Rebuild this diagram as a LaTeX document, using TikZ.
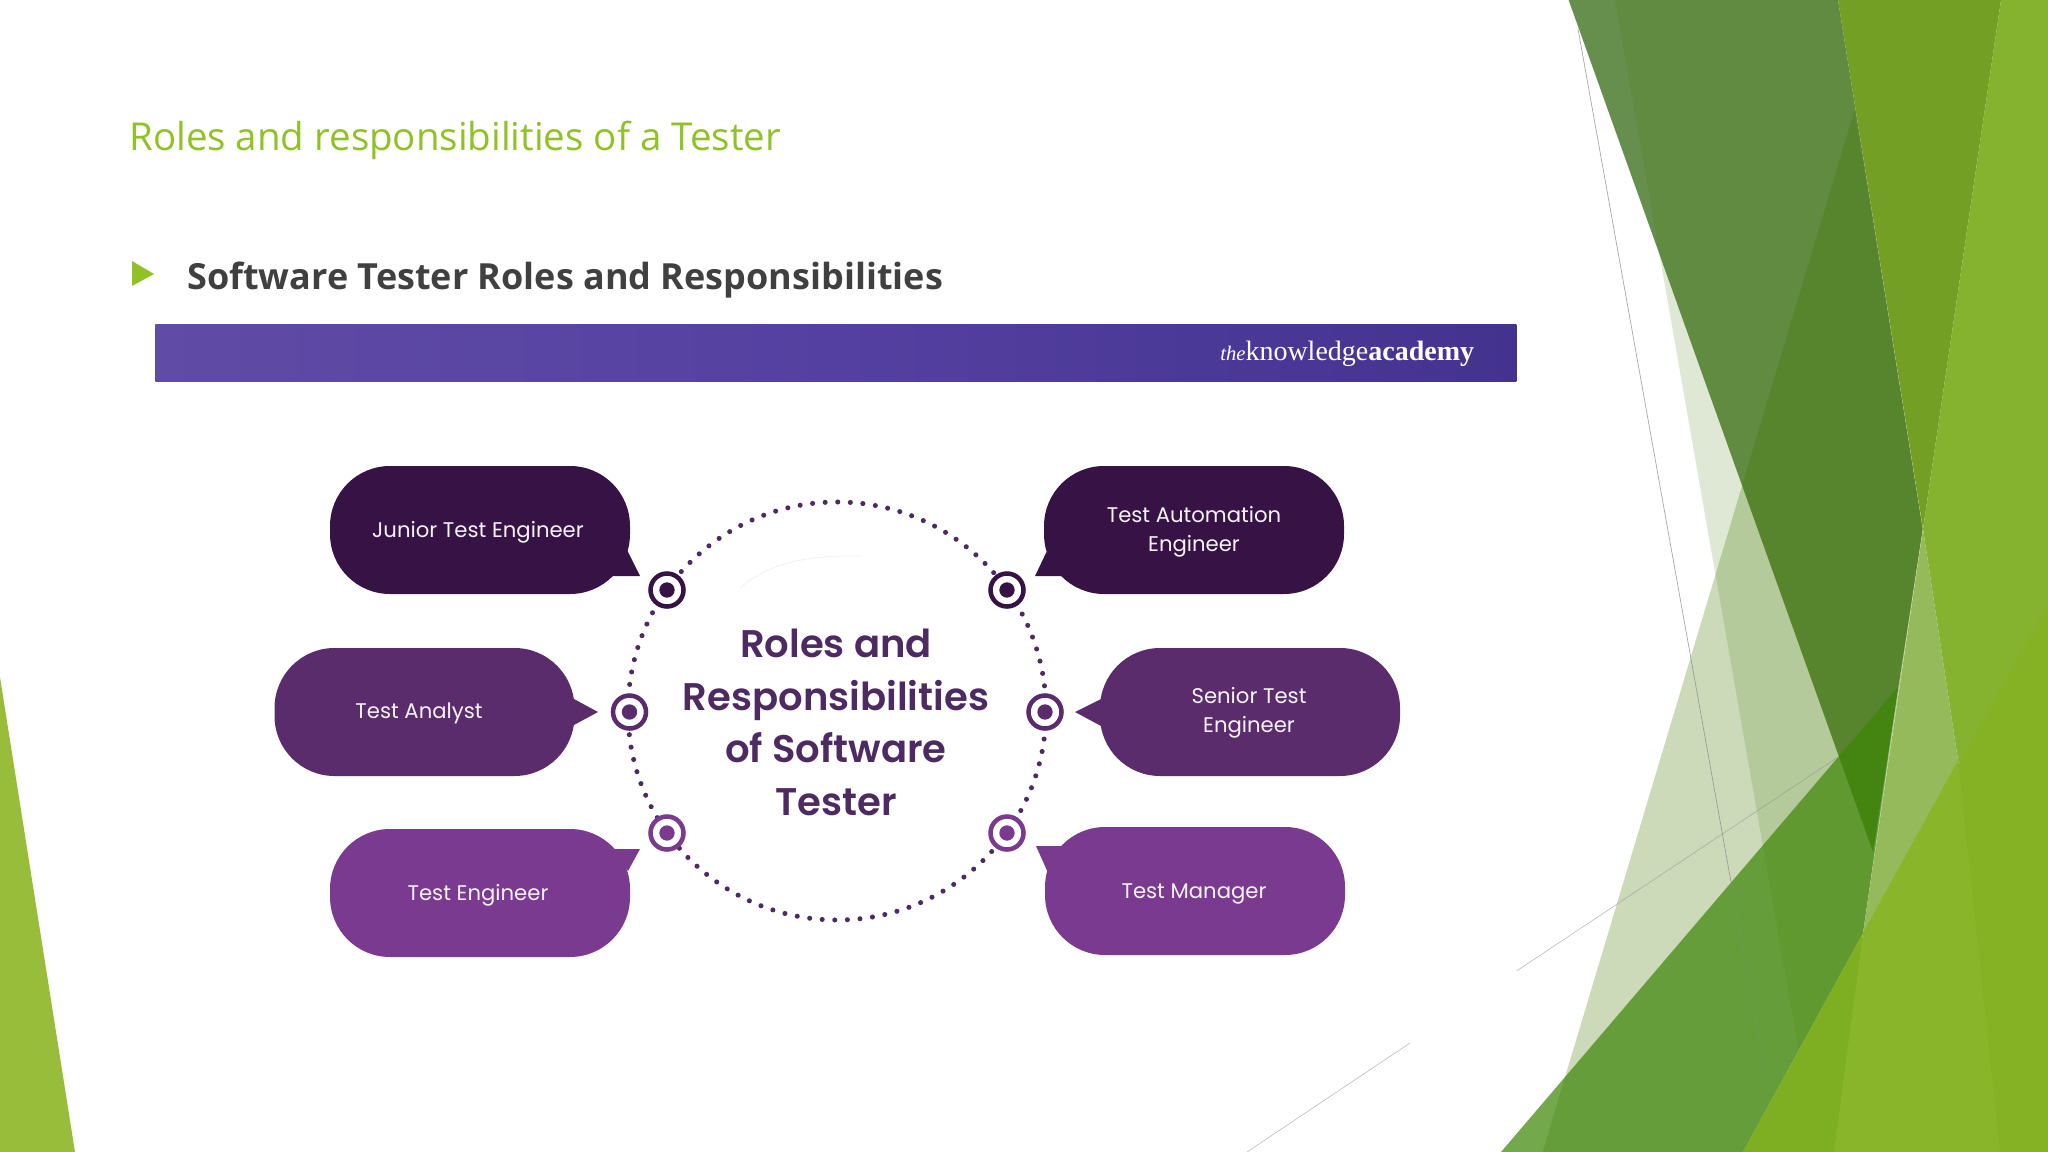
\documentclass[tikz,border=0pt]{standalone}
\usepackage{fontspec}
\setmainfont{Open Sans}
\newfontfamily\popfont{Poppins}
\newfontfamily\popsemi{Poppins SemiBold}
\newfontfamily\logofont{Liberation Serif}
\definecolor{slidegreen}{HTML}{90C226}
\definecolor{bullettext}{HTML}{404040}
\definecolor{darkplum}{HTML}{371245}
\definecolor{midplum}{HTML}{5B2C6B}
\definecolor{lightplum}{HTML}{7A3A90}
\definecolor{hubtext}{HTML}{4E2A62}
\definecolor{paleveil}{RGB}{67,120,0}
\definecolor{bandgreen}{RGB}{62,134,8}
\tikzset{
  bubble/.style={rectangle, rounded corners=45pt, minimum width=225pt, minimum height=96pt, inner sep=0pt},
  bubbletext/.style={align=center, inner sep=0pt, text=white!94!lightplum, font=\popfont\fontsize{15.9}{21.6}\selectfont},
  ring/.style={circle, draw, fill=white, line width=3.4pt, minimum size=24.75pt, inner sep=0pt},
  bullseye/.style={circle, minimum size=11.5pt, inner sep=0pt},
  hub/.style={circle, draw=hubtext, minimum size=313.5pt, inner sep=0pt, line width=3.8pt, line cap=round, dash pattern={on 0pt off 9.45pt}},
  thinline/.style={draw=black!45, line width=0.5pt}
}
\begin{document}
\begin{tikzpicture}[x=0.75pt,y=0.75pt,yscale=-1]
\useasboundingbox (0,0) rectangle (2048,1152);

%Shape: left corner
\fill [color={rgb,255:red,151;green,189;blue,59}] (0,677) -- (75,1152) -- (0,1152) -- cycle ;

%Shape: dark facet
\fill [color={rgb,255:red,102;green,143;blue,78}] (1568.6,0) -- (1838,0) -- (1922.7,529) -- (1873,852) -- cycle ;
%Shape: pale facets
\fill [paleveil, fill opacity=0.27] (1854.5,110) -- (1922.7,529) -- (1863,933) -- (1743,1152) -- (1542.6,1152) -- cycle ;
\fill [paleveil, fill opacity=0.17] (1615,0) -- (1838,0) -- (1922.7,529) -- (1863,933) -- (1805,1087) -- cycle ;
%Shape: band
\fill [bandgreen, fill opacity=0.72] (1501,1152) -- (1898,687) -- (1863,933) -- (1743,1152) -- cycle ;
%Straight Lines
\draw [thinline, opacity=0.8] (1578,29) -- (1731,882) ;
\draw [thinline, opacity=0.3] (1731,882) -- (1768,1087) ;
\draw [thinline, opacity=0.55] (1516.5,971) -- (1838,757) ;
\draw [thinline, opacity=0.55] (1247,1152) -- (1410,1043) ;
%Shape: right facets
\fill [color={rgb,255:red,116;green,159;blue,37}] (1838,0) -- (2001,0) -- (1923,529) -- cycle ;
\fill [color={rgb,255:red,134;green,179;blue,47}] (2001,0) -- (2048,0) -- (2048,640) -- (1970,780) -- (1958,760.5) -- (1923,529) -- cycle ;
\fill [color={rgb,255:red,149;green,186;blue,91}] (1923,529) -- (1958,760.5) -- (1975,790) -- (1863,950) -- (1863,933) -- cycle ;
\fill [color={rgb,255:red,133;green,177;blue,37}] (1743,1152) -- (2048,604) -- (2048,1152) -- cycle ;
\fill [color={rgb,255:red,126;green,174;blue,34}] (1743,1152) -- (1863,933) -- (1834,1152) -- cycle ;
\fill [color={rgb,255:red,137;green,181;blue,42}] (1834,1152) -- (1863,933) -- (1958,760.5) -- (2000,1152) -- cycle ;

% Text Node
\node [anchor=base west, inner sep=0pt, text=slidegreen, font=\fontsize{28.85}{32}\selectfont] (title) at (129,151) {Roles and responsibilities of a Tester};
%Shape: bullet
\fill [slidegreen] (132,261) -- (154,274) -- (132,286) -- cycle ;
% Text Node
\node [anchor=base west, inner sep=0pt, text=bullettext, font=\bfseries\fontsize{27}{32}\selectfont] (subtitle) at (187,289) {Software Tester Roles and Responsibilities};

%Shape: banner
\node [anchor=north west, minimum width=1020.75pt, minimum height=43pt, inner sep=0pt, left color={rgb,255:red,96;green,76;blue,166}, right color={rgb,255:red,67;green,51;blue,143}, middle color={rgb,255:red,84;green,64;blue,160}] (banner) at (155,324) {};
% Text Node
\node [anchor=base west, inner sep=0pt, text=white, font=\logofont\fontsize{21}{24}\selectfont] (logo) at (1220,360) {\textit{\fontsize{15.5}{24}\selectfont the}knowledge\textbf{academy}};

%Shape: Circle
\node [hub] (hub) at (837,711) {};
%Shape: Arc
\draw [color=black!6, line width=0.6pt] (740,588) .. controls (770,562) and (810,555) .. (860,556) ;
% Text Node
\node [align=center, inner sep=0pt, text=hubtext, font=\popsemi\fontsize{28.9}{39.6}\selectfont] (hubtitle) at (836,722.5) {Roles and\\Responsibilities\\of Software\\Tester};

%Shape: left bubbles
\node [bubble, fill=darkplum] (junior) at (480,530) {};
\fill [darkplum] (627,550) -- (640,576) -- (612,576) -- cycle ;
\node [bubble, fill=midplum] (analyst) at (424.5,712) {};
\fill [midplum] (574,699) -- (598,712) -- (574,725) -- cycle ;
\node [bubble, fill=lightplum] (engineer) at (480,893) {};
\fill [lightplum] (612,849) -- (640,849) -- (628,871) -- cycle ;
%Shape: right bubbles
\node [bubble, fill=darkplum] (automation) at (1194,530) {};
\fill [darkplum] (1046.5,552) -- (1035,576) -- (1063,576) -- cycle ;
\node [bubble, fill=midplum] (senior) at (1250,712) {};
\fill [midplum] (1101,699) -- (1075,712) -- (1101,726) -- cycle ;
\node [bubble, fill=lightplum] (manager) at (1195,891) {};
\fill [lightplum] (1071,846) -- (1036,846) -- (1049,875) -- cycle ;

% Text Node
\node [bubbletext] (juniortext) at (478,532) {Junior Test Engineer};
\node [bubbletext] (analysttext) at (419,713.5) {Test Analyst};
\node [bubbletext] (engineertext) at (478,895.5) {Test Engineer};
\node [bubbletext] (automationtext) at (1194,531.5) {Test Automation\\Engineer};
\node [bubbletext] (seniortext) at (1249,713) {Senior Test\\Engineer};
\node [bubbletext] (managertext) at (1194,893.5) {Test Manager};

%Shape: rings
\node [ring, draw=darkplum] (ringa) at (667,590) {};
\node [bullseye, fill=darkplum] (dota) at (ringa) {};
\node [ring, draw=darkplum] (ringb) at (1007,590) {};
\node [bullseye, fill=darkplum] (dotb) at (ringb) {};
\node [ring, draw=midplum] (ringc) at (629.5,712) {};
\node [bullseye, fill=midplum] (dotc) at (ringc) {};
\node [ring, draw=midplum] (ringd) at (1045,712) {};
\node [bullseye, fill=midplum] (dotd) at (ringd) {};
\node [ring, draw=lightplum] (ringe) at (667,833) {};
\node [bullseye, fill=lightplum] (dote) at (ringe) {};
\node [ring, draw=lightplum] (ringf) at (1007,833) {};
\node [bullseye, fill=lightplum] (dotf) at (ringf) {};

\end{tikzpicture}
\end{document}
